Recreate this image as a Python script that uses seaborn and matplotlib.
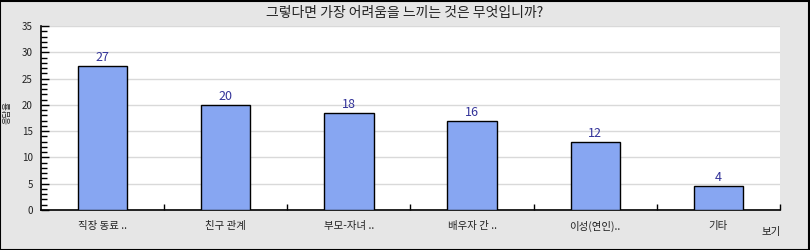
import matplotlib
matplotlib.use("Agg")
import matplotlib.pyplot as plt
import seaborn as sns
import pandas as pd
from matplotlib.ticker import FixedLocator, MultipleLocator

categories = ["직장 동료 ..", "친구 관계", "부모-자녀 ..", "배우자 간 ..", "이성(연인)..", "기타"]
values = [27.3, 20.0, 18.4, 16.9, 12.9, 4.5]
value_labels = ["27", "20", "18", "16", "12", "4"]
title = "그렇다면 가장 어려움을 느끼는 것은 무엇입니까?"
y_label = "응답율"
legend_text = "보기"

sns.set_theme(style="white")
plt.rcParams['font.family'] = ['Noto Sans CJK KR', 'DejaVu Sans']

bg = "#e6e6e6"
fig = plt.figure(figsize=(8.1, 2.5), dpi=100, facecolor=bg)
ax = fig.add_axes([41/810, 40/250, (780-41)/810, (210-26)/250])
ax.set_facecolor("white")

df = pd.DataFrame({"cat": categories, "val": values})
sns.barplot(data=df, x="cat", y="val", color="#87a6f2", width=0.4,
            edgecolor="black", linewidth=1, saturation=1, ax=ax, zorder=3)

for i, (v, lab) in enumerate(zip(values, value_labels)):
    ax.text(i, v + 0.4, lab, ha="center", va="bottom", fontsize=9,
            color="#333399", zorder=4)

ax.set_ylim(0, 35)
ax.set_xlim(-0.5, 5.5)
ax.yaxis.set_major_locator(MultipleLocator(5))
ax.yaxis.set_minor_locator(MultipleLocator(1))
ax.grid(axis="y", which="major", color="#d9d9d9", linewidth=1, zorder=0)
ax.set_axisbelow(True)

ax.tick_params(axis="y", which="major", direction="in", length=6, width=1,
               color="black", labelsize=7, labelcolor="#222222", pad=6, left=True)
ax.tick_params(axis="y", which="minor", direction="in", length=4, width=1,
               color="black", left=True)
ax.xaxis.set_minor_locator(FixedLocator([0.5, 1.5, 2.5, 3.5, 4.5, 5.5]))
ax.tick_params(axis="x", which="major", length=0, labelsize=7.5,
               labelcolor="#222222", pad=8)
ax.tick_params(axis="x", which="minor", direction="in", length=4, width=1,
               color="black", bottom=True)

for s in ["top", "right"]:
    ax.spines[s].set_visible(False)
for s in ["left", "bottom"]:
    ax.spines[s].set_color("black")
    ax.spines[s].set_linewidth(1.2)

ax.set_xlabel("")
ax.set_ylabel("")

fig.text(0.5, 1 - 13/250, title, ha="center", va="center", fontsize=10,
         color="#222222")
fig.text(7/810, 1 - 113/250, y_label, ha="center", va="center", fontsize=6,
         rotation=90, color="#222222")
fig.text(771/810, 1 - 232/250, legend_text, ha="center", va="center",
         fontsize=7.5, color="#222222")

border = plt.Rectangle((0.0006, 0.002), 0.9985, 0.995, transform=fig.transFigure,
                       fill=False, edgecolor="black", linewidth=1.5)
fig.patches.append(border)

fig.savefig("out.png", dpi=100, facecolor=bg)
